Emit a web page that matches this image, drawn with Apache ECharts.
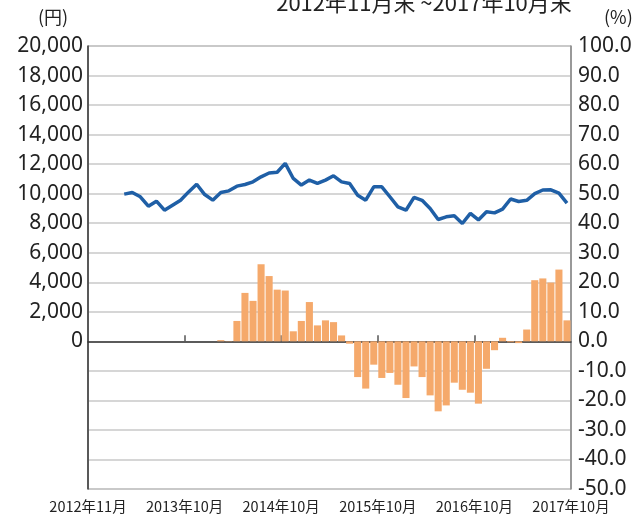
<!DOCTYPE html>
<html>
<head>
<meta charset="utf-8">
<script src="https://cdn.jsdelivr.net/npm/echarts@6/dist/echarts.min.js"></script>
<style>
  html, body { margin: 0; padding: 0; background: #fff; }
  #chart { width: 638px; height: 518px; }
</style>
</head>
<body>
<div id="chart"></div>
<script>
// month-end categories, 2012/11 .. 2017/10
const months = [
  '2012/11', '2012/12',
  '2013/01', '2013/02', '2013/03', '2013/04', '2013/05', '2013/06', '2013/07', '2013/08', '2013/09', '2013/10', '2013/11', '2013/12',
  '2014/01', '2014/02', '2014/03', '2014/04', '2014/05', '2014/06', '2014/07', '2014/08', '2014/09', '2014/10', '2014/11', '2014/12',
  '2015/01', '2015/02', '2015/03', '2015/04', '2015/05', '2015/06', '2015/07', '2015/08', '2015/09', '2015/10', '2015/11', '2015/12',
  '2016/01', '2016/02', '2016/03', '2016/04', '2016/05', '2016/06', '2016/07', '2016/08', '2016/09', '2016/10', '2016/11', '2016/12',
  '2017/01', '2017/02', '2017/03', '2017/04', '2017/05', '2017/06', '2017/07', '2017/08', '2017/09', '2017/10'
];

// base price (円), left axis
const price = [
  null, null, null, null, 9970, 10080, 9790, 9150, 9490, 8880,
  9220, 9560, 10120, 10640, 9940, 9560, 10080, 10190, 10510, 10620,
  10800, 11140, 11400, 11450, 12050, 11030, 10580, 10920, 10690, 10920,
  11210, 10800, 10690, 9900, 9560, 10460, 10460, 9790, 9110, 8880,
  9750, 9550, 9000, 8250, 8430, 8500, 7980, 8660, 8220, 8770,
  8700, 8950, 9640, 9470, 9550, 10000, 10250, 10260, 10030, 9360
];

// 1-year return (%), right axis
const returns = [
  null, null, null, null, null, null, null, null, null, null,
  null, null, null, null, null, null, 0.4, 0.1, 6.9, 16.4,
  13.7, 26.1, 22.1, 17.5, 17.2, 3.4, 6.9, 13.3, 5.4, 7.1,
  6.5, 2.0, -0.8, -12.1, -16.0, -7.9, -12.4, -10.7, -14.7, -19.2,
  -8.5, -12.1, -18.3, -23.7, -21.7, -14.0, -16.4, -17.4, -21.1, -9.3,
  -3.0, 1.2, -0.3, -0.6, 4.0, 20.7, 21.3, 19.9, 24.3, 7.1
];

// labels sit on the year boundaries (every 12 months)
const tickLabels = ['2012年11月', '2013年10月', '2014年10月', '2015年10月', '2016年10月', '2017年10月'];

const boundaries = [];
for (let i = 0; i <= months.length; i++) {
  boundaries.push(i % 12 === 0 ? tickLabels[i / 12] : '');
}

const chart = echarts.init(document.getElementById('chart'), null, { renderer: 'canvas' });

chart.setOption({
  animation: false,
  backgroundColor: '#fff',
  title: {
    text: '2012年11月末 ~2017年10月末',
    left: 419,
    top: -13,
    textAlign: 'center',
    textStyle: { fontFamily: 'Noto Sans CJK JP', fontSize: 22, fontWeight: 'normal', color: '#222' }
  },
  graphic: [
    { type: 'text', left: 38, top: 8, style: { text: '(円)', font: '18px "Noto Sans CJK JP"', fill: '#222' } },
    { type: 'text', left: 604, top: 8, style: { text: '(%)', font: '18px "Noto Sans CJK JP"', fill: '#222' } }
  ],
  grid: {
    left: 88,
    right: 67,
    top: 46,
    bottom: 29,
    show: true,
    borderColor: '#999',
    borderWidth: 1
  },
  xAxis: [
    {
      type: 'category',
      data: months,
      show: false,
      boundaryGap: true
    },
    {
      type: 'category',
      data: boundaries,
      boundaryGap: false,
      position: 'bottom',
      axisLine: { onZero: true, lineStyle: { color: '#333', width: 1.5 } },
      axisTick: {
        inside: true,
        length: 6,
        interval: (i) => i % 12 === 0 && i > 0 && i < months.length,
        lineStyle: { color: '#555', width: 1.5 }
      },
      axisLabel: { show: false },
      splitLine: { show: false }
    },
    {
      type: 'category',
      data: boundaries,
      boundaryGap: false,
      position: 'bottom',
      axisLine: { show: false, onZero: false },
      axisTick: { show: false },
      axisLabel: {
        interval: 0,
        margin: 10,
        color: '#222',
        fontFamily: 'Noto Sans CJK JP',
        fontSize: 14.5
      },
      splitLine: { show: false }
    }
  ],
  yAxis: [
    {
      type: 'value',
      min: -10000,
      max: 20000,
      interval: 2000,
      position: 'left',
      axisLine: { show: true, lineStyle: { color: '#333', width: 1.5 } },
      axisTick: { show: false },
      axisLabel: {
        margin: 5,
        color: '#222',
        fontFamily: 'Noto Sans',
        fontSize: 21,
        formatter: (v) => (v < 0 ? '' : v.toLocaleString('en-US'))
      },
      splitLine: { lineStyle: { color: '#c8c8c8', width: 1.5 } }
    },
    {
      type: 'value',
      min: -50,
      max: 100,
      interval: 10,
      position: 'right',
      axisLine: { show: true, lineStyle: { color: '#888', width: 1.5 } },
      axisTick: { show: false },
      axisLabel: {
        margin: 7,
        color: '#222',
        fontFamily: 'Noto Sans',
        fontSize: 21,
        formatter: (v) => v.toFixed(1)
      },
      splitLine: { show: false }
    }
  ],
  series: [
    {
      name: '騰落率',
      type: 'bar',
      xAxisIndex: 0,
      yAxisIndex: 1,
      data: returns,
      barCategoryGap: '12%',
      itemStyle: { color: '#f5a96b' }
    },
    {
      name: '基準価額',
      type: 'line',
      xAxisIndex: 0,
      yAxisIndex: 0,
      data: price,
      symbol: 'none',
      lineStyle: { color: '#1f5fa6', width: 3.5 }
    }
  ]
});
</script>
</body>
</html>
